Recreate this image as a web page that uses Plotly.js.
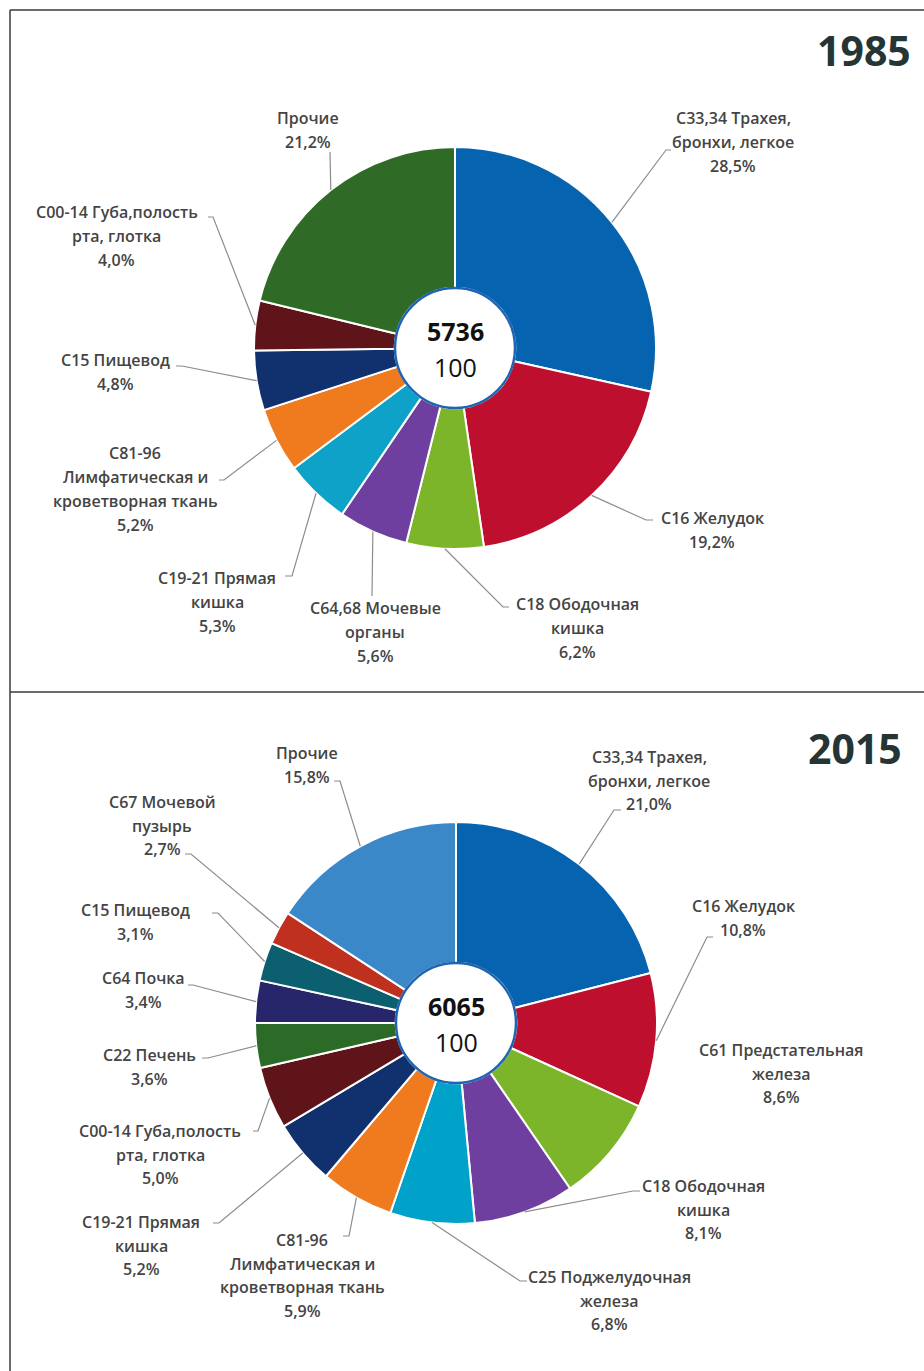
<!DOCTYPE html>
<html>
<head>
<meta charset="utf-8">
<script src="https://cdn.plot.ly/plotly-3.0.1.min.js"></script>
<style>html,body{margin:0;padding:0;background:#fff;}#chart{width:924px;height:1371px;}</style>
</head>
<body>
<div id="chart"></div>
<script>
// ---------- DATA ----------
const years = ['1985', '2015'];
const totals = ['5736', '6065'];
const totalPct = ['100', '100'];

const labels1985 = [
  'С33,34 Трахея,<br>бронхи, легкое',
  'С16 Желудок',
  'С18 Ободочная<br>кишка',
  'С64,68 Мочевые<br>органы',
  'С19-21 Прямая<br>кишка',
  'С81-96<br>Лимфатическая и<br>кроветворная ткань',
  'С15 Пищевод',
  'С00-14 Губа,полость<br>рта, глотка',
  'Прочие'
];
const values1985 = [28.5, 19.2, 6.2, 5.6, 5.3, 5.2, 4.8, 4.0, 21.2];

const labels2015 = [
  'С33,34 Трахея,<br>бронхи, легкое',
  'С16 Желудок',
  'С61 Предстательная<br>железа',
  'С18 Ободочная<br>кишка',
  'С25 Поджелудочная<br>железа',
  'С81-96<br>Лимфатическая и<br>кроветворная ткань',
  'С19-21 Прямая<br>кишка',
  'С00-14 Губа,полость<br>рта, глотка',
  'С22 Печень',
  'С64 Почка',
  'С15 Пищевод',
  'С67 Мочевой<br>пузырь',
  'Прочие'
];
const values2015 = [21.0, 10.8, 8.6, 8.1, 6.8, 5.9, 5.2, 5.0, 3.6, 3.4, 3.1, 2.7, 15.8];

// ---------- STYLE / LAYOUT ----------
const colors1985 = ['#0563B0','#BE0F2E','#7DB52A','#6F3FA0','#0EA2C9','#F07A1E','#10306E','#5E1418','#2F6B27'];
const colors2015 = ['#0563B0','#BE0F2E','#7DB52A','#6F3FA0','#00A2C9','#F07A1E','#10306E','#5E1418','#2C6B27','#27266A','#0C5F6E','#C0301F','#3B88C9'];

const W = 924, H = 1371;
const FONT = '"Open Sans", "Noto Sans", sans-serif';
const LABEL_COLOR = '#444444';
const LINE_STEP = [24, 23.5];

// pie geometry (pixels)
const pies = [
  {cx: 455, cy: 348, r: 201},
  {cx: 456, cy: 1023, r: 201}
];
// label text positions: [centerX, firstLineY]
const labelPos1985 = [[733,118],[712,518],[577,604],[375,608],[217,578],[135,453],[115,360],[117,212],[308,118]];
const labelPos2015 = [[649,757],[743,906],[781,1050],[703,1186],[609,1277],[302,1240],[141,1222],[160,1131],[149,1055],[143,978],[135,910],[162,802],[307,753]];
// leader: [elbowX, elbowY, endX] (null = none)
const leader1985 = [[666,150,671],[646,520,653],[503,607,509],[372,596,372],[292,576,285],[224,480,219],[182,366,176],[213,217,208],[330,152,330]];
const leader2015 = [[614,810,621],[707,937,713],null,[633,1191,640],[520,1281,527],[349,1236,343],[219,1223,213],[258,1131,253],[208,1058,202],[193,985,188],[218,913,212],[191,854,185],[340,781,334]];

const px = x => x / W;
const py = y => 1 - y / H;
const fmtPct = v => v.toFixed(1).replace('.', ',') + '%';

const sets = [
  {labels: labels1985, values: values1985, colors: colors1985, pos: labelPos1985, leader: leader1985},
  {labels: labels2015, values: values2015, colors: colors2015, pos: labelPos2015, leader: leader2015}
];

const traces = [];
const annotations = [];
const shapes = [];

sets.forEach((s, k) => {
  const p = pies[k];
  traces.push({
    type: 'pie',
    values: s.values,
    labels: s.labels.map(l => l.replace(/<br>/g, ' ')),
    sort: false,
    direction: 'clockwise',
    rotation: 0,
    hole: 0.3,
    textinfo: 'none',
    hoverinfo: 'label+percent',
    marker: {colors: s.colors, line: {color: '#ffffff', width: 2}},
    domain: {x: [px(p.cx - p.r), px(p.cx + p.r)], y: [py(p.cy + p.r), py(p.cy - p.r)]},
    showlegend: false
  });

  const total = s.values.reduce((a, b) => a + b, 0);
  let cum = 0;
  s.values.forEach((v, i) => {
    const theta = 2 * Math.PI * (cum + v / 2) / total;
    cum += v;
    const tx = p.cx + p.r * Math.sin(theta);
    const ty = p.cy - p.r * Math.cos(theta);
    const lines = s.labels[i].split('<br>').concat([fmtPct(v)]);
    const [lx, ly] = s.pos[i];
    lines.forEach((t, j) => {
      annotations.push({
        x: px(lx), y: py(ly + j * LINE_STEP[k]), xref: 'paper', yref: 'paper',
        text: t, showarrow: false, xanchor: 'center', yanchor: 'middle',
        font: {family: FONT, size: 16, weight: 600, color: LABEL_COLOR}
      });
    });
    const L = s.leader[i];
    if (L) {
      shapes.push({
        type: 'path', xref: 'paper', yref: 'paper',
        path: `M ${px(tx)},${py(ty)} L ${px(L[0])},${py(L[1])} L ${px(L[2])},${py(L[1])}`,
        line: {color: '#8c8c8c', width: 1.2}
      });
    }
  });

  const hr = 60;
  shapes.push({
    type: 'circle', xref: 'paper', yref: 'paper',
    x0: px(p.cx - hr), x1: px(p.cx + hr), y0: py(p.cy + hr), y1: py(p.cy - hr),
    fillcolor: '#ffffff', line: {color: '#1F64B2', width: 2.5}, layer: 'above'
  });
  annotations.push({
    x: px(p.cx), y: py(p.cy - 17), xref: 'paper', yref: 'paper', showarrow: false,
    text: '<b>' + totals[k] + '</b>', xanchor: 'center', yanchor: 'middle',
    font: {family: FONT, size: 25, color: '#111111'}
  });
  annotations.push({
    x: px(p.cx), y: py(p.cy + 19), xref: 'paper', yref: 'paper', showarrow: false,
    text: totalPct[k], xanchor: 'center', yanchor: 'middle',
    font: {family: FONT, size: 25, color: '#111111'}
  });
});

annotations.push({x: px(913), y: py(50), xref: 'paper', yref: 'paper', showarrow: false,
  text: '<b>' + years[0] + '</b>', xanchor: 'right', yanchor: 'middle',
  font: {family: FONT, size: 41, color: '#253535'}});
annotations.push({x: px(904), y: py(748), xref: 'paper', yref: 'paper', showarrow: false,
  text: '<b>' + years[1] + '</b>', xanchor: 'right', yanchor: 'middle',
  font: {family: FONT, size: 41, color: '#253535'}});

const bc = '#3a3a3a';
shapes.push({type: 'line', xref: 'paper', yref: 'paper', x0: px(10), x1: 1, y0: py(10), y1: py(10), line: {color: bc, width: 1.5}});
shapes.push({type: 'line', xref: 'paper', yref: 'paper', x0: px(10), x1: px(10), y0: py(10), y1: 0, line: {color: bc, width: 1.5}});
shapes.push({type: 'line', xref: 'paper', yref: 'paper', x0: px(10), x1: 1, y0: py(692), y1: py(692), line: {color: bc, width: 1.5}});

const layout = {
  width: W, height: H,
  margin: {l: 0, r: 0, t: 0, b: 0},
  paper_bgcolor: '#ffffff',
  plot_bgcolor: '#ffffff',
  showlegend: false,
  annotations: annotations,
  shapes: shapes
};

Plotly.newPlot('chart', traces, layout, {displayModeBar: false, staticPlot: true});
</script>
</body>
</html>
